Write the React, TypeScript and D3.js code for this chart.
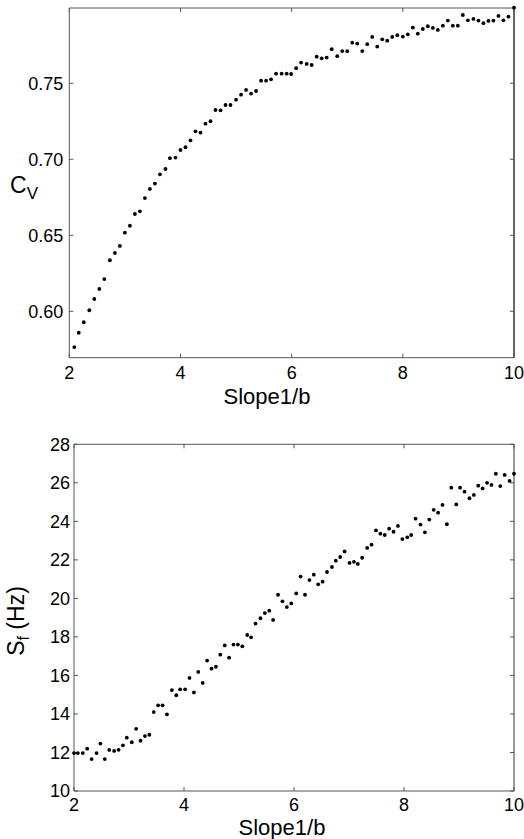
import React from "react";
import * as d3 from "d3";

const cvSlope = [2.09, 2.17, 2.26, 2.36, 2.45, 2.54, 2.63, 2.73, 2.82, 2.91, 3.0, 3.09, 3.18, 3.27, 3.36, 3.45, 3.54, 3.63, 3.73, 3.81, 3.91, 4.0, 4.09, 4.18, 4.27, 4.36, 4.45, 4.54, 4.63, 4.72, 4.81, 4.9, 5.0, 5.09, 5.18, 5.27, 5.36, 5.45, 5.54, 5.63, 5.72, 5.82, 5.91, 5.99, 6.08, 6.17, 6.27, 6.36, 6.45, 6.54, 6.63, 6.72, 6.82, 6.91, 7.0, 7.09, 7.18, 7.27, 7.36, 7.45, 7.54, 7.63, 7.72, 7.81, 7.9, 8.0, 8.09, 8.18, 8.27, 8.36, 8.45, 8.54, 8.63, 8.72, 8.81, 8.9, 8.99, 9.08, 9.17, 9.27, 9.36, 9.45, 9.54, 9.63, 9.72, 9.81, 9.9, 10.0];
const cvValues = [0.5765, 0.5859, 0.5928, 0.6007, 0.6081, 0.6147, 0.6212, 0.6336, 0.6384, 0.643, 0.6517, 0.6563, 0.664, 0.6658, 0.6745, 0.6805, 0.684, 0.6901, 0.6936, 0.7007, 0.7011, 0.7061, 0.7079, 0.7125, 0.7184, 0.7175, 0.7234, 0.725, 0.7324, 0.7322, 0.7357, 0.7357, 0.7392, 0.7425, 0.7456, 0.7432, 0.7449, 0.7517, 0.7517, 0.7526, 0.7563, 0.7563, 0.7563, 0.7561, 0.7599, 0.7636, 0.7627, 0.762, 0.7675, 0.7664, 0.7669, 0.7724, 0.7678, 0.7712, 0.7711, 0.7767, 0.7761, 0.7712, 0.7757, 0.7805, 0.7741, 0.7789, 0.778, 0.7805, 0.7816, 0.7807, 0.7822, 0.7866, 0.7826, 0.7857, 0.7875, 0.7864, 0.7851, 0.7879, 0.7912, 0.7879, 0.7879, 0.7949, 0.7914, 0.7923, 0.7912, 0.7895, 0.791, 0.7912, 0.7943, 0.7914, 0.7938, 0.7997];

const sfSlope = [2.0, 2.07, 2.16, 2.24, 2.32, 2.41, 2.48, 2.56, 2.64, 2.73, 2.81, 2.89, 2.96, 3.05, 3.13, 3.21, 3.29, 3.37, 3.45, 3.53, 3.61, 3.69, 3.78, 3.86, 3.93, 4.02, 4.1, 4.18, 4.26, 4.34, 4.42, 4.5, 4.58, 4.66, 4.74, 4.82, 4.9, 4.98, 5.06, 5.15, 5.22, 5.3, 5.39, 5.47, 5.55, 5.62, 5.71, 5.79, 5.87, 5.95, 6.04, 6.12, 6.2, 6.28, 6.36, 6.44, 6.52, 6.6, 6.69, 6.76, 6.84, 6.92, 7.01, 7.09, 7.16, 7.24, 7.33, 7.41, 7.49, 7.57, 7.65, 7.73, 7.81, 7.89, 7.97, 8.06, 8.13, 8.21, 8.3, 8.38, 8.46, 8.54, 8.62, 8.7, 8.78, 8.86, 8.95, 9.02, 9.1, 9.19, 9.27, 9.35, 9.43, 9.51, 9.59, 9.67, 9.75, 9.83, 9.92, 10.0];
const sfValues = [11.97, 11.97, 11.97, 12.2, 11.66, 11.97, 12.46, 11.66, 12.13, 12.08, 12.14, 12.37, 12.77, 12.53, 13.23, 12.61, 12.85, 12.92, 14.1, 14.45, 14.45, 13.98, 15.24, 14.97, 15.28, 15.28, 15.87, 15.12, 16.18, 15.61, 16.77, 16.35, 16.45, 17.08, 17.56, 16.92, 17.6, 17.6, 17.51, 18.1, 17.98, 18.69, 18.97, 19.24, 19.36, 18.88, 20.19, 19.85, 19.55, 19.74, 20.26, 21.13, 20.19, 20.95, 21.23, 20.73, 20.87, 21.37, 21.63, 21.96, 22.15, 22.44, 21.84, 21.9, 21.79, 22.11, 22.62, 22.79, 23.53, 23.36, 23.29, 23.62, 23.46, 23.76, 23.08, 23.17, 23.29, 24.14, 23.83, 23.43, 24.09, 24.6, 24.45, 24.85, 23.85, 25.75, 24.88, 25.75, 25.54, 25.2, 25.37, 25.85, 25.71, 26.0, 25.89, 26.47, 25.83, 26.41, 26.1, 26.47];

const xTicks = [2, 4, 6, 8, 10];
const cvTicks = [0.6, 0.65, 0.7, 0.75];
const sfTicks = [10, 12, 14, 16, 18, 20, 22, 24, 26, 28];

const FONT = "'Liberation Sans', Arial, Helvetica, sans-serif";
const AXIS = "#555";

type PanelProps = {
  xs: number[];
  ys: number[];
  x: d3.ScaleLinear<number, number>;
  y: d3.ScaleLinear<number, number>;
  yTicks: number[];
  yFmt: (v: number) => string;
  xLabelX: number;
  xLabelY: number;
  rightColor: string;
  tickLabelGap: number;
  xTickOffset: number;
};

function Panel({ xs, ys, x, y, yTicks, yFmt, xLabelX, xLabelY, rightColor, tickLabelGap, xTickOffset }: PanelProps) {
  const [x0, x1] = x.range();
  const [yb, yt] = y.range();
  const tl = 4;
  return (
    <g>
      <line x1={x0} x2={x1} y1={yb} y2={yb} stroke={AXIS} strokeWidth={1} />
      <line x1={x0} x2={x1} y1={yt} y2={yt} stroke={AXIS} strokeWidth={1} />
      <line x1={x0} x2={x0} y1={yt} y2={yb} stroke={AXIS} strokeWidth={1} />
      <line x1={x1} x2={x1} y1={yt} y2={yb} stroke={rightColor} strokeWidth={1.2} />
      {xTicks.map((t) => (
        <g key={"x" + t}>
          <line x1={x(t)} x2={x(t)} y1={yb} y2={yb - tl} stroke={AXIS} />
          <line x1={x(t)} x2={x(t)} y1={yt} y2={yt + tl} stroke={AXIS} />
          <text x={x(t)} y={yb + xTickOffset} textAnchor="middle" fontSize={18} fontFamily={FONT} fill="#000">
            {t}
          </text>
        </g>
      ))}
      {yTicks.map((t) => (
        <g key={"y" + t}>
          <line x1={x0} x2={x0 + tl} y1={y(t)} y2={y(t)} stroke={AXIS} />
          <line x1={x1} x2={x1 - tl} y1={y(t)} y2={y(t)} stroke={AXIS} />
          <text x={x0 - tickLabelGap} y={y(t)} dy="0.36em" textAnchor="end" fontSize={18} fontFamily={FONT} fill="#000">
            {yFmt(t)}
          </text>
        </g>
      ))}
      {xs.map((v, i) => (
        <circle key={i} cx={x(v)} cy={y(ys[i])} r={1.9} fill="#000" />
      ))}
      <text x={xLabelX} y={xLabelY} textAnchor="middle" fontSize={22} fontFamily={FONT} fill="#000">
        Slope1/b
      </text>
    </g>
  );
}

export default function App() {
  const xTop = d3.scaleLinear().domain([2, 10]).range([69.3, 514]);
  const yTop = d3.scaleLinear().domain([0.5695, 0.7995]).range([357.7, 8]);
  const xBot = d3.scaleLinear().domain([2, 10]).range([74, 514]);
  const yBot = d3.scaleLinear().domain([10, 28]).range([791, 444.3]);
  return (
    <svg
      width={524}
      height={839}
      style={{ position: "absolute", left: 0, top: 0, background: "#fff" }}
    >
      <rect x={0} y={0} width={524} height={839} fill="#fff" />
      <Panel
        xs={cvSlope}
        ys={cvValues}
        x={xTop}
        y={yTop}
        yTicks={cvTicks}
        yFmt={d3.format(".2f")}
        xLabelX={267}
        xLabelY={404}
        rightColor="#000"
        tickLabelGap={6}
        xTickOffset={21}
      />
      <text x={10} y={193} fontSize={23} fontFamily={FONT} fill="#000">
        C
        <tspan fontSize={17} dy={6}>V</tspan>
      </text>
      <Panel
        xs={sfSlope}
        ys={sfValues}
        x={xBot}
        y={yBot}
        yTicks={sfTicks}
        yFmt={d3.format("d")}
        xLabelX={282}
        xLabelY={835}
        rightColor={AXIS}
        tickLabelGap={4}
        xTickOffset={20}
      />
      <text
        transform={`translate(24, 621) rotate(-90)`}
        textAnchor="middle"
        fontSize={23}
        fontFamily={FONT}
        fill="#000"
      >
        S<tspan fontSize={16} dy={5}>f</tspan>
        <tspan dy={-5}> (Hz)</tspan>
      </text>
    </svg>
  );
}
